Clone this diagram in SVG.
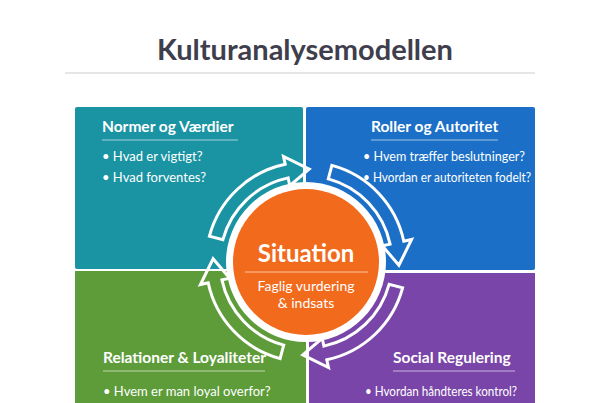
<svg xmlns="http://www.w3.org/2000/svg" width="600" height="403" viewBox="0 0 600 403">
<style>
text{font-family:Lato,"Liberation Sans",sans-serif;fill:#fff}
.h{font-size:15.5px;font-weight:700}
.b{font-size:13px}
.arr{fill:none;stroke:#fff;stroke-width:3;stroke-linejoin:miter}
.ul{stroke:#fff;stroke-opacity:.6;stroke-width:1}
</style>
<defs><path id="ar" d="M 25.9 -96.6 A 100 100 0 0 1 97.8 -20.8 L 105.6 -22.5 L 92.9 3.2 L 76.3 -16.2 L 84.1 -17.9 A 86 86 0 0 0 22.3 -83.1 Z"/></defs>
<rect width="600" height="403" fill="#fff"/>
<text x="305" y="60" text-anchor="middle" style="font-size:29px;font-weight:700;fill:#3e3e4c">Kulturanalysemodellen</text>
<line x1="65" y1="73" x2="535" y2="73" stroke="#ccc" stroke-width="1"/>
<g id="tl"><rect x="75" y="107" width="228" height="162" rx="2" fill="#1a93a3"/>
<text class="h" x="102" y="132">Normer og Værdier</text><line class="ul" x1="102" y1="140" x2="238" y2="140"/>
<text class="b" x="102" y="161">• Hvad er vigtigt?</text><text class="b" x="102" y="182">• Hvad forventes?</text></g>
<g id="tr"><rect x="306" y="107" width="229" height="163" rx="2" fill="#1b6fc6"/>
<text class="h" x="371" y="132">Roller og Autoritet</text><line class="ul" x1="371" y1="140" x2="498" y2="140"/>
<text class="b" x="363" y="161" textLength="162" lengthAdjust="spacingAndGlyphs">• Hvem træffer beslutninger?</text><text class="b" x="363" y="182" textLength="168" lengthAdjust="spacingAndGlyphs">• Hvordan er autoriteten fodelt?</text></g>
<g id="bl"><rect x="75" y="271" width="231" height="132" fill="#5e9c3a"/>
<text class="h" x="103" y="363">Relationer &amp; Loyaliteter</text><line class="ul" x1="103" y1="371" x2="265" y2="371"/>
<text class="b" x="103" y="396">• Hvem er man loyal overfor?</text></g>
<g id="br"><rect x="309" y="273" width="226" height="130" fill="#7945a8"/>
<text class="h" x="393" y="363">Social Regulering</text><line class="ul" x1="393" y1="371" x2="515" y2="371"/>
<text class="b" x="365" y="396" textLength="152" lengthAdjust="spacingAndGlyphs">• Hvordan håndteres kontrol?</text></g>
<g id="connectors" transform="translate(306,262)">
<use href="#ar" class="arr"/>
<use href="#ar" class="arr" transform="rotate(90)"/>
<use href="#ar" class="arr" transform="rotate(180)"/>
<use href="#ar" class="arr" transform="rotate(270)"/>
</g>
<g id="center"><circle cx="306" cy="262" r="80" fill="#fff"/><circle cx="306" cy="262" r="73" fill="#f26a1c"/>
<text x="306" y="262" text-anchor="middle" style="font-size:24px;font-weight:700">Situation</text>
<line class="ul" x1="245" y1="272" x2="368" y2="272"/>
<text class="b" x="306" y="291" text-anchor="middle" style="font-size:14px">Faglig vurdering</text>
<text class="b" x="306" y="308" text-anchor="middle" style="font-size:14px">&amp; indsats</text></g>
</svg>
